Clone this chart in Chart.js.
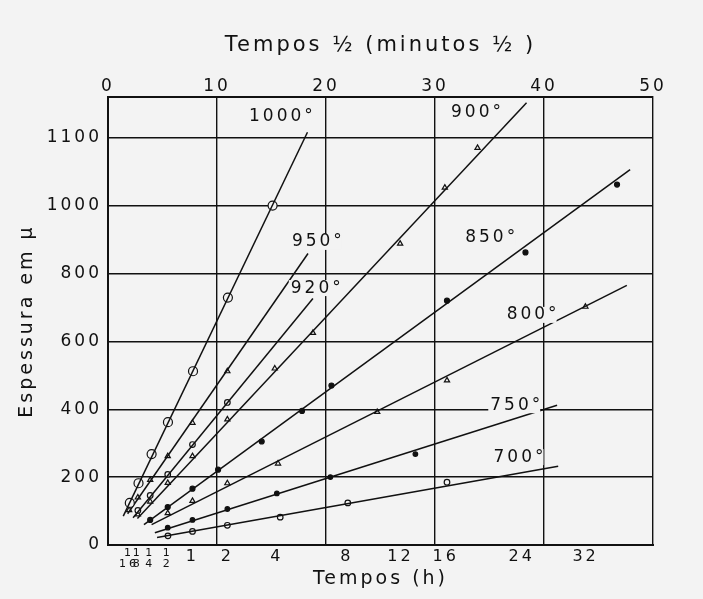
<!DOCTYPE html>
<html>
<head>
<meta charset="utf-8">
<script src="https://cdn.jsdelivr.net/npm/chart.js@4.4.0/dist/chart.umd.min.js"></script>
<style>
  html, body { margin: 0; padding: 0; background: #f3f3f3; }
  #wrap { width: 703px; height: 599px; }
</style>
</head>
<body>
<div id="wrap"><canvas id="grafico"></canvas></div>
<script>
// --- eixos ---
// eixo superior: raiz quadrada do tempo (minutos^1/2)
const ticksTopo = [0, 10, 20, 30, 40, 50];
// eixo inferior: tempo em horas
const horas = [1/16, 1/8, 1/4, 1/2, 1, 2, 4, 8, 12, 16, 24, 32];
const rotulosHoras = [['1', '16'], ['1', '8'], ['1', '4'], ['1', '2'], '1', '2', '4', '8', '12', '16', '24', '32'];
// eixo y (espessura)
const ticksY = [0, 200, 400, 600, 800, 1000, 1200];
const rotulosY = ['0', '200', '400', '600', '800', '1000', '1100'];

// --- curvas (x em minutos^1/2, y em micra) ---
const temperaturas = ['1000°', '950°', '920°', '900°', '850°', '800°', '750°', '700°'];

// retas ajustadas: inicio e fim
const reta1000X = [1.4, 18.3],  reta1000Y = [85, 1216];
const reta950X  = [1.8, 18.35], reta950Y  = [92, 859];
const reta920X  = [2.3, 18.8],  reta920Y  = [80, 726];
const reta900X  = [2.7, 38.4],  reta900Y  = [78, 1303];
const reta850X  = [3.3, 47.9],  reta850Y  = [60, 1106];
const reta800X  = [4.0, 47.6],  reta800Y  = [60, 765];
const reta750X  = [4.3, 41.2],  reta750Y  = [36, 412];
const reta700X  = [4.5, 41.3],  reta700Y  = [22, 232];

// pontos medidos
const pontos1000X = [2.0, 2.8, 4.0, 5.5, 7.8, 11.0, 15.1];
const pontos1000Y = [124, 182, 268, 362, 512, 729, 1000];
const pontos950X = [1.94, 2.74, 3.87, 5.48, 7.75, 10.95];
const pontos950Y = [103, 140, 192, 262, 360, 512];
const pontos920X = [2.74, 3.87, 5.48, 7.75, 10.95];
const pontos920Y = [102, 146, 208, 296, 420];
const pontos900X = [2.74, 3.87, 5.48, 7.75, 10.95, 15.3, 18.8, 26.8, 30.9, 33.9];
const pontos900Y = [90, 128, 183, 262, 370, 520, 625, 888, 1053, 1170];
const pontos850X = [3.87, 5.48, 7.75, 10.1, 14.1, 17.8, 20.5, 31.1, 38.3, 46.7];
const pontos850Y = [74, 112, 166, 222, 305, 395, 470, 720, 862, 1062];
const pontos800X = [5.48, 7.75, 10.95, 15.6, 24.7, 31.1, 43.8];
const pontos800Y = [94, 130, 182, 240, 392, 485, 702];
const pontos750X = [5.48, 7.75, 10.95, 15.49, 20.4, 28.2];
const pontos750Y = [51, 74, 106, 152, 200, 268];
const pontos700X = [5.5, 7.75, 10.95, 15.8, 22.0, 31.1];
const pontos700Y = [27, 40, 58, 82, 124, 185];

// onde cada temperatura foi escrita no grafico
const rotuloPosX = [16.0, 19.3, 19.2, 33.9, 35.2, 39.0, 37.5, 37.8];
const rotuloPosY = [1261, 893, 757, 1273, 905, 678, 412, 259];

const fundo = '#f3f3f3';
const tinta = '#111111';
const fonte = '"DejaVu Sans", sans-serif';

const retas = [
    [reta1000X, reta1000Y], [reta950X, reta950Y], [reta920X, reta920Y], [reta900X, reta900Y],
    [reta850X, reta850Y], [reta800X, reta800Y], [reta750X, reta750Y], [reta700X, reta700Y]
];
const pontos = [
    [pontos1000X, pontos1000Y], [pontos950X, pontos950Y], [pontos920X, pontos920Y], [pontos900X, pontos900Y],
    [pontos850X, pontos850Y], [pontos800X, pontos800Y], [pontos750X, pontos750Y], [pontos700X, pontos700Y]
];
// marcador de cada serie
const estilos = ['circle', 'triangle', 'circle', 'triangle', 'circle', 'triangle', 'circle', 'circle'];
const raios = [4.5, 3, 2.8, 3, 2.5, 3, 2.3, 2.8];
const preenchidos = [false, false, false, false, true, false, true, false];

const pares = (xs, ys) => xs.map((x, i) => ({ x: x, y: ys[i] }));

const datasets = [];
temperaturas.forEach((t, i) => {
    datasets.push({
        label: t,
        data: pares(retas[i][0], retas[i][1]),
        showLine: true,
        borderColor: tinta,
        borderWidth: 1.5,
        pointRadius: 0
    });
    datasets.push({
        label: t + ' pontos',
        data: pares(pontos[i][0], pontos[i][1]),
        showLine: false,
        pointStyle: estilos[i],
        pointRadius: raios[i],
        pointBorderWidth: 1.2,
        pointBorderColor: tinta,
        pointBackgroundColor: preenchidos[i] ? tinta : fundo
    });
});

// fundo + espacamento das letras (fonte do original e bem larga)
const fundoPlugin = {
    id: 'fundo',
    beforeDraw(chart) {
        const ctx = chart.ctx;
        ctx.save();
        ctx.fillStyle = fundo;
        ctx.fillRect(0, 0, chart.width, chart.height);
        ctx.restore();
        ctx.letterSpacing = '3px';
    }
};

// escreve as temperaturas junto as retas
const rotulosPlugin = {
    id: 'rotulos',
    afterDatasetsDraw(chart) {
        const { ctx, scales } = chart;
        ctx.save();
        ctx.font = '17px ' + fonte;
        ctx.textAlign = 'center';
        ctx.textBaseline = 'middle';
        temperaturas.forEach((t, i) => {
            const px = scales.x.getPixelForValue(rotuloPosX[i]);
            const py = scales.y.getPixelForValue(rotuloPosY[i]);
            const w = ctx.measureText(t).width;
            ctx.fillStyle = fundo;
            ctx.fillRect(px - w / 2 - 2, py - 8, w - 1, 16);
            ctx.fillStyle = tinta;
            ctx.fillText(t, px, py);
        });
        ctx.restore();
    }
};

new Chart(document.getElementById('grafico'), {
    type: 'scatter',
    data: { datasets: datasets },
    plugins: [fundoPlugin, rotulosPlugin],
    options: {
        responsive: true,
        maintainAspectRatio: false,
        animation: false,
        layout: { padding: { left: 0, right: 50, top: 0, bottom: 0 } },
        plugins: { legend: { display: false }, tooltip: { enabled: false } },
        scales: {
            x: {
                position: 'top',
                min: 0, max: 50,
                afterBuildTicks: (s) => { s.ticks = ticksTopo.map(v => ({ value: v })); },
                afterFit: (s) => { s.height = 97; },
                ticks: { color: tinta, font: { family: fonte, size: 17 }, padding: 0, maxRotation: 0 },
                grid: { color: tinta, lineWidth: 1.4, drawTicks: false },
                border: { color: tinta, width: 2 },
                title: {
                    display: true, text: 'Tempos ½ (minutos ½ )', color: tinta,
                    font: { family: fonte, size: 21 }, padding: { top: 33, bottom: 0 }
                }
            },
            x2: {
                position: 'bottom',
                min: 0, max: 50,
                afterBuildTicks: (s) => { s.ticks = horas.map(h => ({ value: Math.sqrt(h * 60) })); },
                afterFit: (s) => { s.height = 54; },
                ticks: {
                    color: tinta, autoSkip: false, maxRotation: 0, padding: 2,
                    callback: (v, i) => rotulosHoras[i],
                    font: (c) => c.index < 4 ? { family: fonte, size: 11, lineHeight: 1.05 } : { family: fonte, size: 16 }
                },
                grid: { drawOnChartArea: false, drawTicks: false },
                border: { color: tinta, width: 2 },
                title: {
                    display: true, text: 'Tempos (h)', color: tinta,
                    font: { family: fonte, size: 19 }, padding: { top: 0, bottom: 9 }
                }
            },
            y: {
                min: 0, max: 1320,
                afterBuildTicks: (s) => { s.ticks = ticksY.map(v => ({ value: v })); },
                afterFit: (s) => { s.width = 108; },
                ticks: { color: tinta, font: { family: fonte, size: 17 }, padding: 6, callback: (v, i) => rotulosY[i] },
                grid: { color: tinta, lineWidth: 1.4, drawTicks: false },
                border: { color: tinta, width: 2 },
                title: {
                    display: true, text: 'Espessura em μ', color: tinta,
                    font: { family: fonte, size: 19 }, padding: { top: 16, bottom: 0 }
                }
            }
        }
    }
});
</script>
</body>
</html>
